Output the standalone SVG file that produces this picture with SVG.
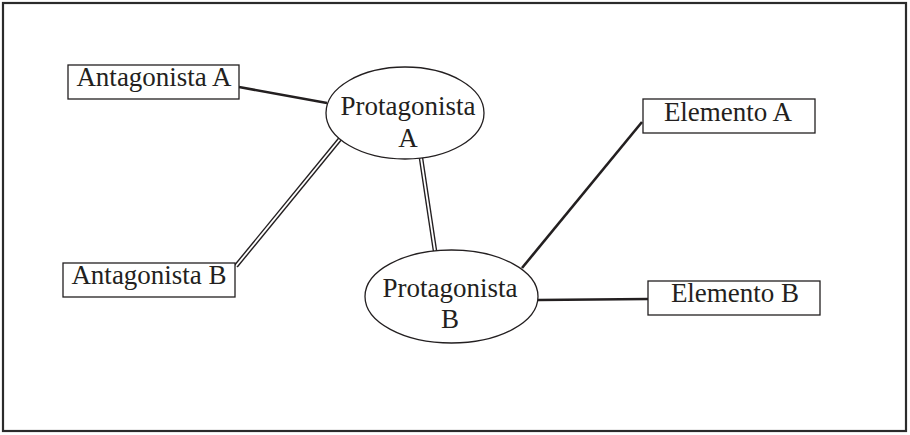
<svg xmlns="http://www.w3.org/2000/svg" width="910" height="435" viewBox="0 0 910 435">
<style>
.box{fill:#fff;stroke:#231f20;stroke-width:1.3}
.ell{fill:#fff;stroke:#231f20;stroke-width:1.3}
.t{font-family:"Liberation Serif","DejaVu Serif",serif;font-size:27px;fill:#231f20;text-anchor:middle}
.single{stroke:#231f20;stroke-width:2.6;fill:none;stroke-linecap:butt}
.dblo{stroke:#231f20;stroke-width:4.6;fill:none}
.dbli{stroke:#fff;stroke-width:1.8;fill:none}
</style>
<rect x="3" y="3" width="903" height="428" fill="#fff" stroke="#2b2b2b" stroke-width="2.2"/>
<g id="connectors">
<line class="single" x1="239" y1="87" x2="327" y2="103"/>
<line class="dblo" x1="236" y1="266" x2="340" y2="139"/>
<line class="dbli" x1="236" y1="266" x2="340" y2="139"/>
<line class="dblo" x1="421" y1="158" x2="435" y2="251"/>
<line class="dbli" x1="421" y1="158" x2="435" y2="251"/>
<line class="single" x1="522" y1="268" x2="642" y2="122"/>
<line class="single" x1="538" y1="300" x2="648" y2="299"/>
</g>
<g id="antagonista-a">
<rect class="box" x="68" y="65" width="171" height="34"/>
<text class="t" x="154" y="86">Antagonista A</text>
</g>
<g id="antagonista-b">
<rect class="box" x="63" y="263" width="172" height="34"/>
<text class="t" x="149" y="284">Antagonista B</text>
</g>
<g id="protagonista-a">
<ellipse class="ell" cx="405" cy="113" rx="79" ry="46"/>
<text class="t" x="408" y="115">Protagonista</text>
<text class="t" x="408" y="147">A</text>
</g>
<g id="protagonista-b">
<ellipse class="ell" cx="451.5" cy="296.5" rx="86.5" ry="46.5"/>
<text class="t" x="450" y="297">Protagonista</text>
<text class="t" x="450" y="328">B</text>
</g>
<g id="elemento-a">
<rect class="box" x="643" y="99" width="172" height="34"/>
<text class="t" x="728" y="121">Elemento A</text>
</g>
<g id="elemento-b">
<rect class="box" x="648" y="281" width="172" height="34"/>
<text class="t" x="735" y="302">Elemento B</text>
</g>
</svg>
